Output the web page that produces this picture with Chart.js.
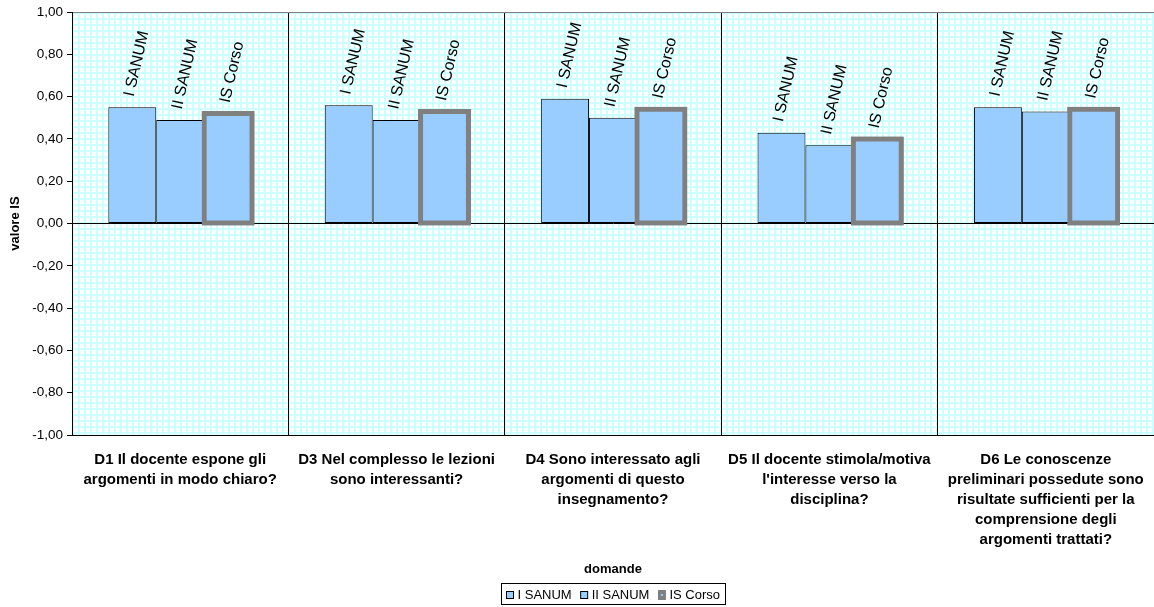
<!DOCTYPE html>
<html>
<head>
<meta charset="utf-8">
<title>valore IS</title>
<script src="https://cdn.jsdelivr.net/npm/chart.js@4/dist/chart.umd.min.js"></script>
<style>
  html, body { margin: 0; padding: 0; background: #fff; }
</style>
</head>
<body>
<canvas id="chart" width="1154" height="607"></canvas>
<script>
const categories = [
  ["D1 Il docente espone gli", "argomenti in modo chiaro?"],
  ["D3 Nel complesso le lezioni", "sono interessanti?"],
  ["D4 Sono interessato agli", "argomenti di questo", "insegnamento?"],
  ["D5 Il docente stimola/motiva", "l'interesse verso la", "disciplina?"],
  ["D6 Le conoscenze", "preliminari possedute sono", "risultate sufficienti per la", "comprensione degli", "argomenti trattati?"]
];
const seriesNames = ["I SANUM", "II SANUM", "IS Corso"];
const iSanum = [0.55, 0.56, 0.59, 0.43, 0.55];
const iiSanum = [0.49, 0.49, 0.50, 0.37, 0.53];
const isCorso = [0.52, 0.53, 0.54, 0.40, 0.54];
const yTickValues = [-1, -0.8, -0.6, -0.4, -0.2, 0, 0.2, 0.4, 0.6, 0.8, 1];

const FONT = 'Arial, "Liberation Sans", sans-serif';
const BAR_BLUE = "#99ccff";
const BORDER_GREY = "#808080";

Chart.defaults.font.family = FONT;
Chart.defaults.color = "#000";

// white page + the little cyan grid pattern inside the plot area
const gridBackground = {
  id: "gridBackground",
  beforeDraw(chart) {
    const { ctx, chartArea: a } = chart;
    ctx.save();
    ctx.fillStyle = "#fff";
    ctx.fillRect(0, 0, chart.width, chart.height);

    const tile = document.createElement("canvas");
    tile.width = 6;
    tile.height = 6;
    const t = tile.getContext("2d");
    t.fillStyle = "#ccffff";
    t.fillRect(0, 0, 6, 6);
    t.fillStyle = "#fff";
    t.fillRect(2, 2, 4, 4);

    ctx.translate(a.left, a.top);
    ctx.fillStyle = ctx.createPattern(tile, "repeat");
    ctx.fillRect(0, 0, a.right - a.left, a.bottom - a.top);
    ctx.restore();
  }
};

// rotated series name above every bar
const barLabels = {
  id: "barLabels",
  afterDatasetsDraw(chart) {
    // IS Corso border sits on top of its neighbour, as in the original
    chart.getDatasetMeta(2).controller.draw();

    const { ctx } = chart;
    ctx.save();
    ctx.font = "16px " + FONT;
    ctx.fillStyle = "#000";
    ctx.textAlign = "left";
    ctx.textBaseline = "middle";
    chart.data.datasets.forEach((ds, i) => {
      chart.getDatasetMeta(i).data.forEach(bar => {
        ctx.save();
        ctx.translate(bar.x - 3, bar.y - 11);
        ctx.rotate(-77 * Math.PI / 180);
        ctx.fillText(ds.label, 0, 0);
        ctx.restore();
      });
    });
    ctx.restore();
  }
};

// legend in a thin box, centred under the plot
const boxedLegend = {
  id: "boxedLegend",
  afterDraw(chart) {
    const { ctx, chartArea: a } = chart;
    ctx.save();
    ctx.font = "13px " + FONT;
    const sw = 7, gap = 4, itemGap = 9, padX = 5, h = 21;
    const widths = seriesNames.map(n => ctx.measureText(n).width);
    const total = padX * 2 + widths.reduce((s, w) => s + sw + gap + w, 0) + itemGap * (seriesNames.length - 1);
    const left = Math.round((a.left + a.right) / 2 - total / 2) + 0.5;
    const top = chart.height - 24 + 0.5;

    ctx.strokeStyle = "#000";
    ctx.lineWidth = 1;
    ctx.strokeRect(left, top, Math.round(total), h);

    let x = left + padX;
    const mid = top + h / 2;
    seriesNames.forEach((name, i) => {
      const sy = Math.round(mid - sw / 2) + 0.5;
      if (i < 2) {
        ctx.fillStyle = BAR_BLUE;
        ctx.fillRect(x, sy, sw, sw);
        ctx.strokeStyle = "#000";
        ctx.strokeRect(x, sy, sw, sw);
      } else {
        ctx.fillStyle = BORDER_GREY;
        ctx.fillRect(x - 0.5, sy - 1.5, sw + 1, sw + 3);
        ctx.fillStyle = BAR_BLUE;
        ctx.fillRect(x + 2.5, sy + 2.5, 2, 2);
      }
      x += sw + gap;
      ctx.fillStyle = "#000";
      ctx.textBaseline = "middle";
      ctx.fillText(name, x, mid + 1);
      x += widths[i] + itemGap;
    });
    ctx.restore();
  }
};

const ctx = document.getElementById("chart").getContext("2d");

new Chart(ctx, {
  type: "bar",
  data: {
    labels: categories,
    datasets: [
      {
        label: seriesNames[0],
        data: iSanum,
        backgroundColor: BAR_BLUE,
        borderColor: "#000",
        borderWidth: 1,
        borderSkipped: false
      },
      {
        label: seriesNames[1],
        data: iiSanum,
        backgroundColor: BAR_BLUE,
        borderColor: "#000",
        borderWidth: 1,
        borderSkipped: false
      },
      {
        label: seriesNames[2],
        data: isCorso,
        backgroundColor: BAR_BLUE,
        borderColor: BORDER_GREY,
        borderWidth: 5,
        borderSkipped: false,
        inflateAmount: 2.5
      }
    ]
  },
  options: {
    responsive: false,
    devicePixelRatio: 1,
    animation: false,
    categoryPercentage: 0.664,
    barPercentage: 1,
    layout: { padding: { top: 12, right: 0, bottom: 30, left: 0 } },
    plugins: {
      legend: { display: false },
      tooltip: { enabled: false }
    },
    scales: {
      x: {
        // invisible tick length pushes the labels down without adding side padding
        grid: { offset: true, color: "#000", drawTicks: true, tickLength: 15, tickColor: "transparent" },
        border: { color: "#000" },
        ticks: {
          padding: 0,
          maxRotation: 0,
          autoSkip: false,
          color: "#000",
          font: { size: 15, weight: "bold", lineHeight: 1.333 }
        },
        title: {
          display: true,
          text: "domande",
          color: "#000",
          padding: 0,
          font: { size: 13, weight: "bold" }
        },
        afterFit(scale) { scale.height = 142; }
      },
      y: {
        min: -1,
        max: 1,
        afterBuildTicks(scale) {
          scale.ticks = yTickValues.map(v => ({ value: v }));
        },
        ticks: {
          padding: 4,
          color: "#000",
          font: { size: 13.5 },
          callback: v => v.toFixed(2).replace(".", ",")
        },
        grid: {
          color: c => {
            const v = c.tick ? c.tick.value : null;
            if (v === null) return "transparent";
            if (Math.abs(v - 1) < 1e-9) return BORDER_GREY;
            if (Math.abs(v) < 1e-9 || Math.abs(v + 1) < 1e-9) return "#000";
            return "transparent";
          },
          tickColor: "#000",
          tickLength: 5
        },
        border: { color: "#000" },
        title: {
          display: true,
          text: "valore IS",
          color: "#000",
          padding: { top: 8, bottom: 0 },
          font: { size: 13, weight: "bold" }
        },
        afterFit(scale) { scale.width = 72; }
      }
    }
  },
  plugins: [gridBackground, barLabels, boxedLegend]
});
</script>
</body>
</html>
